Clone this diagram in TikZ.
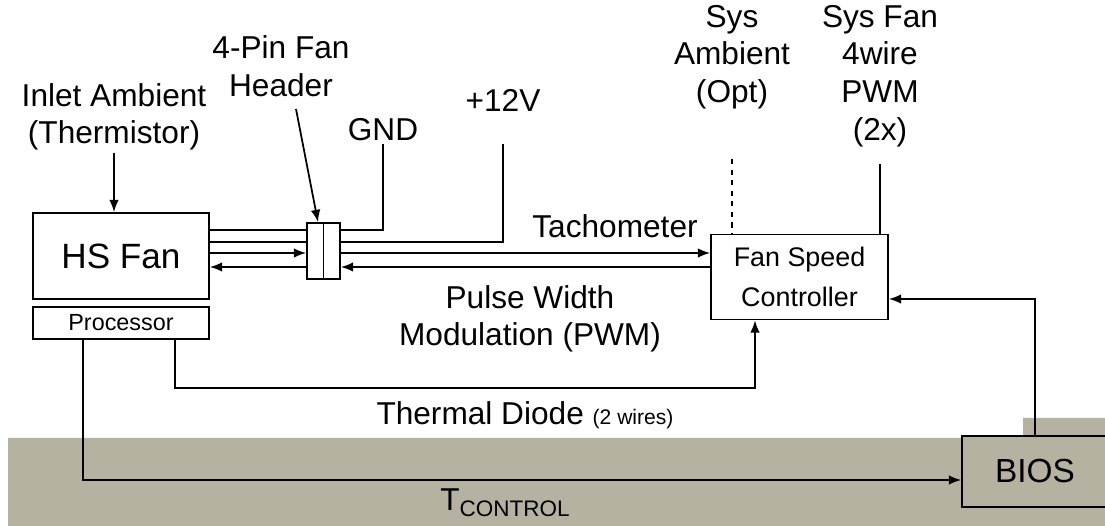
\documentclass[tikz,border=0pt]{standalone}
\usepackage{fontspec}
\setmainfont{Liberation Sans}
\usetikzlibrary{arrows.meta}
\definecolor{bandgray}{RGB}{182,178,162}

\begin{document}
\begin{tikzpicture}[x=0.02cm, y=-0.02cm, line width=1pt,
  >={Latex[length=7pt,width=5.5pt]},
  box/.style={draw, minimum width=3.52cm, inner sep=0pt, align=center},
  lab/.style={align=center, inner sep=1pt, font=\fontsize{18}{21.4}\selectfont},
  wire/.style={line width=1pt}]
  \useasboundingbox (0,0) rectangle (1105,526);
  \fill[bandgray] (8,526) -- (8,438) -- (1023,438) -- (1023,418) -- (1105,418) -- (1105,526) -- cycle;
  \node[box, minimum height=1.72cm, font=\fontsize{20}{24}\selectfont] (fan) at (121,256) {HS Fan};
  \node[box, minimum height=0.64cm, font=\fontsize{13.3}{16}\selectfont] (proc) at (121,323) {Processor};
  \node[draw, minimum width=0.66cm, minimum height=1.12cm, inner sep=0pt] (hdr) at (323.5,251) {};
  \node[box, minimum width=3.54cm, minimum height=1.7cm, font=\fontsize{15.3}{22.5}\selectfont] (fsc) at (799.5,277) {Fan Speed\\Controller};
  \node[draw, fill=bandgray, minimum width=2.92cm, minimum height=1.42cm, font=\fontsize{19}{23}\selectfont] (bios) at (1035,471.5) {BIOS};
  \node[lab] (inlet) at (114,117) {Inlet Ambient\\(Thermistor)};
  \node[lab] (pinhdr) at (281,66) {4-Pin Fan\\Header};
  \node[lab] (gnd) at (383,130) {GND};
  \node[lab] (v12) at (503,100) {+12V};
  \node[lab] (tach) at (615,226) {Tachometer};
  \node[lab] (sysamb) at (732,57) {Sys\\Ambient\\(Opt)};
  \node[lab] (sysfan) at (880,76) {Sys Fan\\4wire\\PWM\\(2x)};
  \node[lab] (pwm) at (530,319) {Pulse Width\\Modulation (PWM)};
  \node[lab] (tdlab) at (525,415) {Thermal Diode {\fontsize{12}{14}\selectfont (2 wires)}};
  \node[lab] (tctrl) at (505,503) {T\raisebox{-0.35ex}{\fontsize{12.8}{15}\selectfont CONTROL}};
  \coordinate (wgnd) at (0,230);
  \coordinate (wvcc) at (0,242);
  \coordinate (wtach) at (0,253);
  \coordinate (wpwm) at (0,267);
  \coordinate (wdiode) at (400,388);
  \draw (hdr.north) -- (hdr.south);
  \draw[->] (inlet) -- (inlet |- fan.north);
  \draw[->] ([xshift=0.3cm,yshift=-0.2cm]pinhdr.south) -- ([xshift=-0.11cm]hdr.north);
  \draw (fan.east |- wgnd) -- (hdr.west |- wgnd);
  \draw (fan.east |- wvcc) -- (hdr.west |- wvcc);
  \draw[->] (fan.east |- wtach) -- (hdr.west |- wtach);
  \draw[->] (hdr.west |- wpwm) -- (fan.east |- wpwm);
  \draw (hdr.east |- wgnd) -| (gnd);
  \draw (hdr.east |- wvcc) -| ([yshift=-0.6cm]v12.south);
  \draw[->] (hdr.east |- wtach) -- (fsc.west |- wtach);
  \draw[->] (fsc.west |- wpwm) -- (hdr.east |- wpwm);
  \draw[dashed] ([yshift=-0.95cm]sysamb.south) -- (sysamb |- fsc.north);
  \draw ([yshift=-0.3cm]sysfan.south) -- (sysfan |- fsc.north);
  \draw[->] (bios.north) |- ([yshift=-0.44cm]fsc.east);
  \draw[->] ([xshift=1.08cm]proc.south) |- (wdiode) -| ([xshift=-0.89cm]fsc.south);
  \draw[->] ([xshift=-0.76cm]proc.south) |- ([yshift=-0.17cm]bios.west);
\end{tikzpicture}
\end{document}
